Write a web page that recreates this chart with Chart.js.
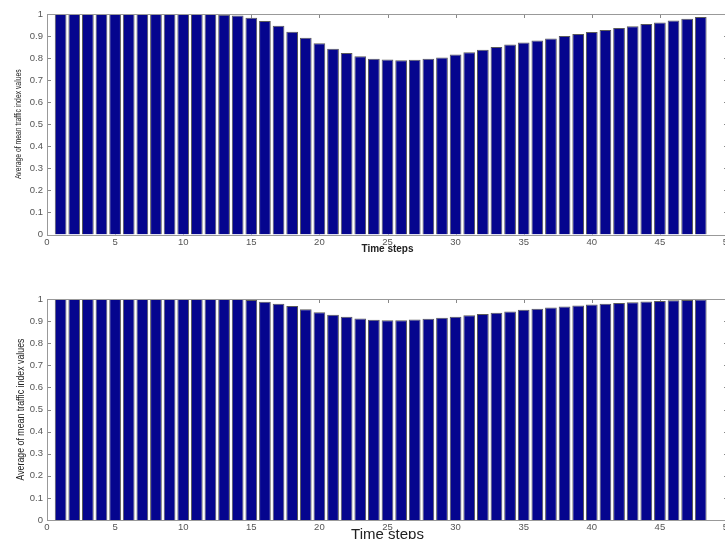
<!DOCTYPE html>
<html>
<head>
<meta charset="utf-8">
<script src="https://cdn.jsdelivr.net/npm/chart.js@4/dist/chart.umd.min.js"></script>
<style>
  html, body { margin: 0; padding: 0; background: #fff; overflow: hidden; width: 725px; height: 539px; }
  #wrap { position: relative; width: 725px; height: 539px; overflow: hidden; }
  canvas { position: absolute; left: 0; }
</style>
</head>
<body>
<div id="wrap">
  <canvas id="c1" width="740" height="270" style="top:0px"></canvas>
  <canvas id="c2" width="740" height="280" style="top:270px"></canvas>
</div>
<script>
// ---- data ----
const timeSteps = [1,2,3,4,5,6,7,8,9,10,11,12,13,14,15,16,17,18,19,20,21,22,23,24,
                   25,26,27,28,29,30,31,32,33,34,35,36,37,38,39,40,41,42,43,44,45,46,47,48];
const topValues = [1,1,1,1,1,1,1,1,1,1,1,1,0.997,0.993,0.983,0.968,0.947,0.92,0.892,0.867,
                   0.842,0.823,0.808,0.797,0.794,0.79,0.792,0.797,0.803,0.816,0.826,0.838,
                   0.85,0.862,0.871,0.88,0.889,0.9,0.909,0.918,0.927,0.936,0.945,0.955,
                   0.962,0.971,0.979,0.986];
const bottomValues = [1,1,1,1,1,1,1,1,1,1,1,1,1,1,0.995,0.988,0.979,0.968,0.954,0.94,
                      0.929,0.92,0.912,0.906,0.904,0.904,0.907,0.911,0.915,0.92,0.926,0.932,
                      0.938,0.944,0.951,0.956,0.961,0.966,0.971,0.975,0.979,0.982,0.985,0.989,
                      0.991,0.994,0.996,0.998];
const xTitle = 'Time steps';
const yTitle = 'Average of mean traffic index values';

const tickFont = { family: 'Liberation Sans, Arial, sans-serif', size: 9.5 };

const framePlugin = {
  id: 'frame',
  beforeDatasetsDraw(chart) {
    const { ctx, chartArea: a, scales: { x, y } } = chart;
    ctx.save();
    ctx.strokeStyle = '#888';
    ctx.lineWidth = 1;
    ctx.beginPath();
    y.ticks.forEach(t => {
      const py = Math.round(y.getPixelForValue(t.value)) + 0.5;
      ctx.moveTo(a.left, py); ctx.lineTo(a.left + 4, py);
      ctx.moveTo(a.right - 4, py); ctx.lineTo(a.right, py);
    });
    x.ticks.forEach(t => {
      const px = Math.round(x.getPixelForValue(t.value)) + 0.5;
      ctx.moveTo(px, a.top); ctx.lineTo(px, a.top + 4);
      ctx.moveTo(px, a.bottom - 4); ctx.lineTo(px, a.bottom);
    });
    ctx.stroke();
    ctx.restore();
  },
  afterDatasetsDraw(chart) {
    const { ctx, chartArea: a } = chart;
    ctx.save();
    ctx.strokeStyle = '#999';
    ctx.lineWidth = 1;
    ctx.strokeRect(Math.round(a.left) + 0.5, Math.round(a.top) + 0.5,
                   Math.round(a.right - a.left), Math.round(a.bottom - a.top));
    ctx.restore();
  },
  afterDraw(chart, args, opts) {
    // condensed rotated y-axis title
    const { ctx, chartArea: a } = chart;
    ctx.save();
    ctx.translate(opts.yTitleX, (a.top + a.bottom) / 2);
    ctx.rotate(-Math.PI / 2);
    ctx.scale(opts.squeeze, 1);
    ctx.font = opts.yTitleSize + 'px "Liberation Sans", Arial, sans-serif';
    ctx.fillStyle = '#222';
    ctx.textAlign = 'center';
    ctx.textBaseline = 'middle';
    ctx.fillText(yTitle, 0, 0);
    ctx.restore();
  }
};

const fmt = v => String(Math.round(v * 10) / 10);

function makeChart(id, values, cfg) {
  return new Chart(document.getElementById(id), {
    type: 'bar',
    data: {
      datasets: [{
        data: timeSteps.map((t, i) => ({ x: t, y: values[i] })),
        backgroundColor: '#05058e',
        borderColor: '#5a5a5a',
        borderWidth: 1,
        barPercentage: 0.86,
        categoryPercentage: 1
      }]
    },
    options: {
      responsive: false,
      animation: false,
      devicePixelRatio: 1,
      layout: { padding: { top: cfg.top, right: cfg.right, left: 0, bottom: 0 } },
      plugins: {
        legend: { display: false }, tooltip: { enabled: false },
        frame: { yTitleX: cfg.yTitleX, yTitleSize: cfg.yTitleSize, squeeze: 0.8 }
      },
      scales: {
        x: {
          type: 'linear', min: 0, max: 50, offset: false,
          grid: { display: false, drawTicks: false },
          border: { display: false },
          ticks: { stepSize: 5, color: '#555', font: tickFont, padding: 2, maxRotation: 0, autoSkip: false, callback: fmt },
          title: { display: true, text: xTitle, color: '#222', font: cfg.xTitleFont, padding: { top: 0, bottom: cfg.xTitlePad } },
          afterFit(s) { s.height = cfg.xh; }
        },
        y: {
          min: 0, max: 1,
          grid: { display: false, drawTicks: false },
          border: { display: false },
          ticks: { stepSize: 0.1, color: '#555', font: tickFont, padding: 4, callback: fmt },
          afterFit(s) { s.width = 47; }
        }
      }
    },
    plugins: [framePlugin]
  });
}

makeChart('c1', topValues, {
  top: 14, right: 12, xh: 35.5,
  xTitleFont: { family: 'Liberation Sans, Arial, sans-serif', size: 10, weight: 'bold' }, xTitlePad: 15,
  yTitleX: 19, yTitleSize: 8.5
});

makeChart('c2', bottomValues, {
  top: 29, right: 12, xh: 30,
  xTitleFont: { family: 'Liberation Sans, Arial, sans-serif', size: 15 }, xTitlePad: 6,
  yTitleX: 21, yTitleSize: 11
});
</script>
</body>
</html>
